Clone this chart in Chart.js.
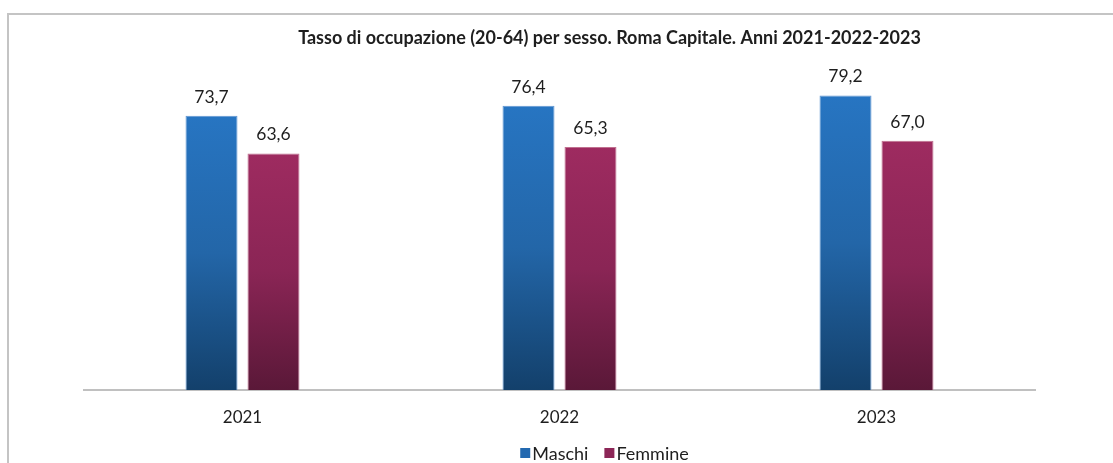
<!DOCTYPE html>
<html>
<head>
<meta charset="utf-8">
<script src="https://cdn.jsdelivr.net/npm/chart.js@4.4.0/dist/chart.umd.min.js"></script>
<style>
  html, body { margin: 0; padding: 0; background: #fff; overflow: hidden; }
  #wrap { position: relative; width: 1113px; height: 463px; }
  #frame {
    position: absolute; left: 7px; top: 13px; width: 1200px; height: 500px;
    border-top: 2px solid #c4c4c4; border-left: 2px solid #c4c4c4;
  }
  #chart { position: absolute; left: 0; top: 0; }
</style>
</head>
<body>
<div id="wrap">
  <div id="frame"></div>
  <canvas id="chart" width="1113" height="463"></canvas>
</div>
<script>
// data
const years = ['2021', '2022', '2023'];
const maschi = [73.7, 76.4, 79.2];
const femmine = [63.6, 65.3, 67.0];
const seriesNames = ['Maschi', 'Femmine'];
const chartTitle = 'Tasso di occupazione (20-64) per sesso. Roma Capitale. Anni 2021-2022-2023';

const FONT = 'Lato, "Open Sans", sans-serif';
const TEXT = '#1e1e1e';

// top / bottom colours of each bar fill
const fills = [
    { top: '#2775c2', mid: '#2366a8', bottom: '#13406b', edge: '#5f95d2', legend: '#2369b0' },
    { top: '#9e2b60', mid: '#8a2555', bottom: '#5a1838', edge: '#c0708f', legend: '#8c2657' }
];

function barGradient(i) {
    return (ctx) => {
        const chart = ctx.chart;
        if (!chart.chartArea || ctx.type !== 'data') return fills[i].mid;
        const y = chart.scales.y;
        const top = y.getPixelForValue(ctx.raw);
        const base = y.getPixelForValue(0);
        const g = chart.ctx.createLinearGradient(0, top, 0, base);
        g.addColorStop(0, fills[i].top);
        g.addColorStop(0.5, fills[i].mid);
        g.addColorStop(1, fills[i].bottom);
        return g;
    };
}

const fmt = (v) => v.toFixed(1).replace('.', ',');

// value labels, title and legend
const textPlugin = {
    id: 'texts',
    afterDatasetsDraw(chart) {
        const ctx = chart.ctx;
        const area = chart.chartArea;
        ctx.save();
        ctx.fillStyle = TEXT;
        ctx.textAlign = 'center';
        ctx.textBaseline = 'alphabetic';
        ctx.font = '17.5px ' + FONT;
        chart.data.datasets.forEach((ds, di) => {
            chart.getDatasetMeta(di).data.forEach((bar, j) => {
                ctx.fillText(fmt(ds.data[j]), bar.x, bar.y - 13);
            });
        });

        // title
        const cx = (area.left + area.right) / 2 + 50;
        ctx.font = 'bold 18px ' + FONT;
        ctx.fillText(chartTitle, cx, 44);

        // legend
        ctx.font = '18px ' + FONT;
        const box = 10, gapBox = 2, gapItem = 16;
        const widths = chart.data.datasets.map(ds => box + gapBox + ctx.measureText(ds.label).width);
        const total = widths.reduce((a, b) => a + b, 0) + gapItem * (widths.length - 1);
        let x = cx - 5 - total / 2;
        const ly = 453;
        ctx.textAlign = 'left';
        ctx.textBaseline = 'middle';
        chart.data.datasets.forEach((ds, di) => {
            ctx.fillStyle = fills[di].legend;
            ctx.fillRect(x, ly - box / 2, box, box);
            ctx.fillStyle = TEXT;
            ctx.fillText(ds.label, x + box + gapBox, ly + 1);
            x += widths[di] + gapItem;
        });
        ctx.restore();
    }
};

new Chart(document.getElementById('chart'), {
    type: 'bar',
    data: {
        labels: years,
        datasets: [
            {
                label: seriesNames[0],
                data: maschi,
                backgroundColor: barGradient(0),
                borderColor: fills[0].edge,
                borderWidth: 1
            },
            {
                label: seriesNames[1],
                data: femmine,
                backgroundColor: barGradient(1),
                borderColor: fills[1].edge,
                borderWidth: 1
            }
        ]
    },
    options: {
        responsive: false,
        animation: false,
        categoryPercentage: 0.391,
        barPercentage: 0.839,
        layout: { padding: { left: 84, right: 78, top: 18, bottom: 0 } },
        plugins: {
            legend: { display: false },
            title: { display: false },
            tooltip: { enabled: false }
        },
        scales: {
            x: {
                grid: { display: false },
                border: { display: true, color: '#c0c0c0', width: 2 },
                ticks: { color: TEXT, font: { family: FONT, size: 17 }, padding: 9 },
                afterFit: (scale) => { scale.height = 73; }
            },
            y: {
                display: false,
                min: 0,
                max: 100
            }
        }
    },
    plugins: [textPlugin]
});
</script>
</body>
</html>
